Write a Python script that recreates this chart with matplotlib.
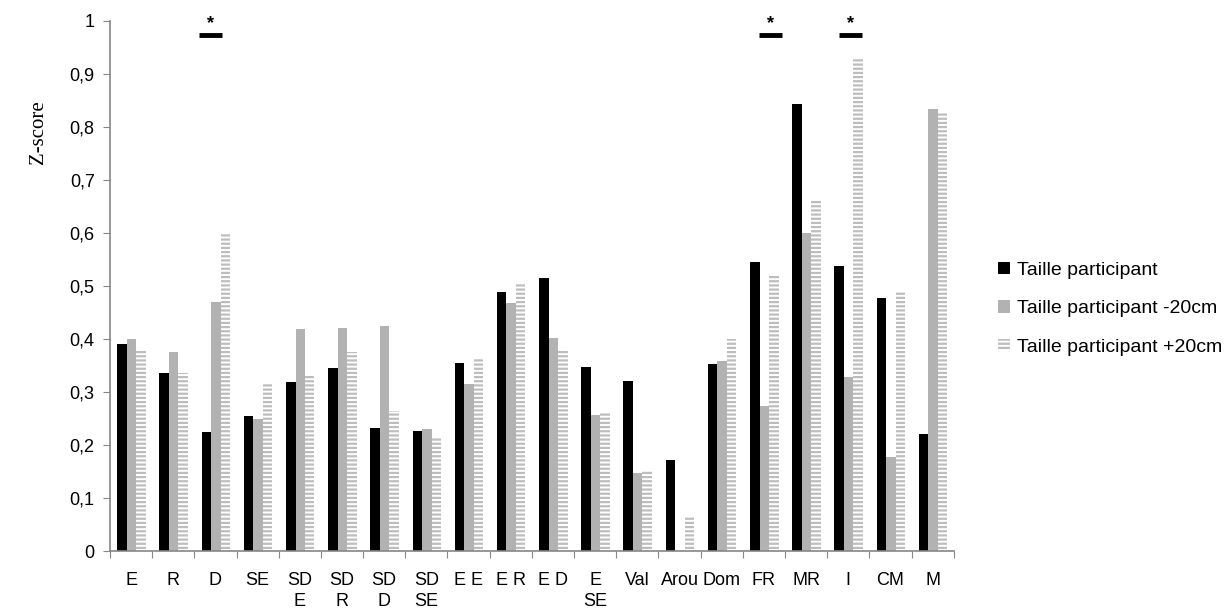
import matplotlib.pyplot as plt
import numpy as np


categories = ["E", "R", "D", "SE", "SD\nE", "SD\nR", "SD\nD", "SD\nSE", "E E", "E R",
              "E D", "E\nSE", "Val", "Arou", "Dom", "FR", "MR", "I", "CM", "M"]

taille = [0.390, 0.335, 0.225, 0.255, 0.318, 0.345, 0.233, 0.226, 0.355, 0.488,
          0.515, 0.347, 0.320, 0.172, 0.352, 0.545, 0.843, 0.538, 0.478, 0.221]
taille_moins20 = [0.400, 0.375, 0.470, 0.250, 0.418, 0.420, 0.425, 0.230, 0.315, 0.468,
                  0.402, 0.257, 0.147, 0.000, 0.358, 0.273, 0.600, 0.328, 0.178, 0.833]
taille_plus20 = [0.380, 0.335, 0.600, 0.315, 0.330, 0.375, 0.265, 0.215, 0.365, 0.503,
                 0.378, 0.262, 0.152, 0.064, 0.400, 0.520, 0.665, 0.930, 0.488, 0.828]

series_labels = ["Taille participant", "Taille participant -20cm", "Taille participant +20cm"]

# significant differences (category index) and small horizontal nudges
sig_idx = [2, 15, 17]
sig_nudge = [-0.12, 0.15, 0.05]
sig_line_y = 0.974
sig_star_y = 0.995

plt.rcParams["font.family"] = ["Liberation Sans", "DejaVu Sans"]
plt.rcParams["hatch.linewidth"] = 1.6

fig = plt.figure(figsize=(12.29, 6.15), dpi=100)
ax = fig.add_axes([0.0895, 0.104, 0.6865, 0.862])

x = np.arange(len(categories))
w = 0.225
ax.bar(x - w + 0.01, taille, w, color="black", label=series_labels[0])
ax.bar(x + 0.01, taille_moins20, w, color="#b2b2b2", label=series_labels[1])
ax.bar(x + w + 0.01, taille_plus20, w, color="white", edgecolor="#bdbdbd",
       linewidth=0, hatch="----", label=series_labels[2])

for i, dx in zip(sig_idx, sig_nudge):
    c = i + dx
    ax.plot([c - 0.27, c + 0.27], [sig_line_y, sig_line_y], color="black",
            linewidth=3.5, solid_capstyle="butt", clip_on=False)
    ax.text(c, sig_star_y, "*", ha="center", va="center", fontsize=13,
            fontweight="bold", clip_on=False)

ax.set_xlim(-0.5, len(categories) - 0.5)
ax.set_ylim(0, 1)
ax.set_yticks(np.arange(0, 1.01, 0.1))
ax.set_yticklabels(["0"] + [f"0,{k}" for k in range(1, 10)] + ["1"], fontsize=13)

ax.set_xticks(np.arange(-0.5, len(categories), 1))
ax.set_xticklabels([])
ax.set_xticks(x, minor=True)
ax.set_xticklabels(categories, minor=True, fontsize=13, linespacing=1.35)
ax.tick_params(axis="x", which="major", length=5, color="#868686")
ax.tick_params(axis="x", which="minor", length=0, pad=15)
ax.tick_params(axis="y", length=5, color="#868686", pad=6)

for s in ["top", "right"]:
    ax.spines[s].set_visible(False)
for s in ["left", "bottom"]:
    ax.spines[s].set_color("#868686")
    ax.spines[s].set_linewidth(1.2)

ax.set_ylabel("Z-score", family="Liberation Serif", fontsize=15)
ax.yaxis.set_label_coords(-0.074, 0.79)

fig.legend(loc="center left", bbox_to_anchor=(0.798, 0.4976), frameon=False,
           fontsize=14, handlelength=0.6, handleheight=0.6, handletextpad=0.35,
           labelspacing=1.1)

fig.savefig("out.png", dpi=100)
